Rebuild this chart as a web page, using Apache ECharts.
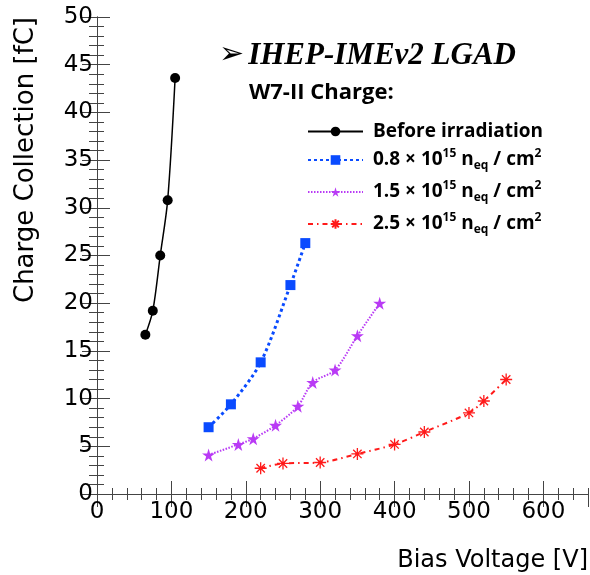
<!DOCTYPE html>
<html>
<head>
<meta charset="utf-8">
<script src="https://cdn.jsdelivr.net/npm/echarts@6/dist/echarts.min.js"></script>
<style>
  html, body { margin: 0; padding: 0; background: #fff; }
  #chart { width: 590px; height: 575px; }
</style>
</head>
<body>
<div id="chart"></div>
<script>
// Collected charge vs. bias voltage, one series per fluence
const voltageBefore = [65, 75, 85, 95, 105];
const chargeBefore  = [16.7, 19.2, 25.0, 30.8, 43.6];

const voltage08 = [150, 180, 220, 260, 280];
const charge08  = [7.0, 9.4, 13.8, 21.9, 26.3];

const voltage15 = [150, 190, 210, 240, 270, 290, 320, 350, 380];
const charge15  = [4.1, 5.2, 5.8, 7.2, 9.2, 11.7, 13.0, 16.6, 20.0];

const voltage25 = [220, 250, 300, 350, 400, 440, 500, 520, 550];
const charge25  = [2.7, 3.2, 3.3, 4.2, 5.2, 6.5, 8.5, 9.75, 12.0];

// Legend entries and the fluence prefix shown for each (null = plain name)
const seriesNames = ['Before irradiation', '0.8 fluence', '1.5 fluence', '2.5 fluence'];
const fluenceLabels = [null, '0.8', '1.5', '2.5'];

const xRange = [0, 660];
const yRange = [0, 50];

function pairs(xs, ys) { return xs.map((x, i) => [x, ys[i]]); }

const starPath = 'path://M50,0 L61,35 L98,35 L68,57 L79,91 L50,70 L21,91 L32,57 L2,35 L39,35 Z';
const asteriskPath = 'path://M5,0L5,10M0,5L10,5M1.5,1.5L8.5,8.5M1.5,8.5L8.5,1.5';

const axisColor = '#444';
const tickFont = { fontFamily: 'DejaVu Sans', fontSize: 23, color: '#000' };

function tickAxis(pos, interval, len, showLine, min, max) {
  return {
    type: 'value', position: pos, min: min, max: max, interval: interval,
    axisLine: { show: showLine, lineStyle: { color: axisColor, width: 1 } },
    axisTick: { show: true, inside: true, length: len, lineStyle: { color: axisColor, width: 1 } },
    axisLabel: { show: false },
    splitLine: { show: false }
  };
}

const chart = echarts.init(document.getElementById('chart'), null, { renderer: 'canvas' });

const richText = {
  b:   { fontFamily: 'Open Sans', fontWeight: 'bold', fontSize: 19, color: '#000', lineHeight: 26, verticalAlign: 'middle' },
  pad: { fontFamily: 'Open Sans', fontWeight: 'bold', fontSize: 19, color: '#000', lineHeight: 26, width: 5 },
  sup: { fontFamily: 'Open Sans', fontWeight: 'bold', fontSize: 12, color: '#000', lineHeight: 26, verticalAlign: 'top', padding: [1, 0, 0, 0] },
  sub: { fontFamily: 'Open Sans', fontWeight: 'bold', fontSize: 12, color: '#000', lineHeight: 26, verticalAlign: 'bottom', padding: [0, 0, 1, 0] }
};

chart.setOption({
  animation: false,
  grid: { left: 97, right: 2, top: 17, bottom: 81, containLabel: false },
  xAxis: [
    {
      type: 'value', position: 'bottom', min: xRange[0], max: xRange[1], interval: 100,
      axisLine: { show: true, lineStyle: { color: axisColor, width: 1 } },
      axisTick: { show: true, inside: true, length: 13, lineStyle: { color: axisColor, width: 1 } },
      axisLabel: Object.assign({ show: true, margin: 7, showMaxLabel: false }, tickFont),
      splitLine: { show: false }
    },
    tickAxis('bottom', 20, 6, false, xRange[0], xRange[1]),
    tickAxis('top', 100, 13, true, xRange[0], xRange[1]),
    tickAxis('top', 20, 6, false, xRange[0], xRange[1])
  ],
  yAxis: [
    {
      type: 'value', position: 'left', min: yRange[0], max: yRange[1], interval: 5,
      axisLine: { show: true, lineStyle: { color: axisColor, width: 1 } },
      axisTick: { show: true, inside: true, length: 13, lineStyle: { color: axisColor, width: 1 } },
      axisLabel: Object.assign({ show: true, margin: 4 }, tickFont),
      splitLine: { show: false }
    },
    tickAxis('left', 1, 7, false, yRange[0], yRange[1]),
    tickAxis('right', 5, 15, true, yRange[0], yRange[1]),
    tickAxis('right', 1, 8, false, yRange[0], yRange[1])
  ],
  legend: {
    orient: 'vertical',
    left: 302, top: 117,
    itemWidth: 55, itemHeight: 12, itemGap: 6,
    selectedMode: false,
    data: seriesNames,
    formatter: function (name) {
      const i = seriesNames.indexOf(name);
      if (!fluenceLabels[i]) return '{pad|}{b|' + name + '}';
      return '{pad|}{b|' + fluenceLabels[i] + ' \u00d7 10}{sup|15}{b| n}{sub|eq}{b| / cm}{sup|2}';
    },
    textStyle: { rich: richText }
  },
  graphic: [
    {
      type: 'text', left: 219, top: 40,
      style: {
        rich: {
          arr: { fontFamily: 'DejaVu Sans', fontSize: 30, color: '#000', padding: [0, 4, 0, 0] },
          t:   { fontFamily: 'Liberation Serif', fontStyle: 'italic', fontWeight: 'bold', fontSize: 31, color: '#000' }
        },
        text: '{arr|\u27a2}{t|IHEP-IMEv2 LGAD}'
      }
    },
    {
      type: 'text', left: 249, top: 82,
      style: { text: 'W7-II Charge:', fontFamily: 'Open Sans', fontWeight: 'bold', fontSize: 22, fill: '#000' }
    },
    {
      type: 'text', x: 26, y: 17, rotation: Math.PI / 2,
      style: { text: 'Charge Collection [fC]', fontFamily: 'DejaVu Sans', fontSize: 26, fill: '#000', align: 'right', verticalAlign: 'middle' }
    },
    {
      type: 'text', x: 588, y: 561,
      style: { text: 'Bias Voltage [V]', fontFamily: 'DejaVu Sans', fontSize: 24, fill: '#000', align: 'right', verticalAlign: 'middle' }
    }
  ],
  series: [
    {
      name: seriesNames[0], type: 'line', xAxisIndex: 0, yAxisIndex: 0,
      data: pairs(voltageBefore, chargeBefore), smooth: 0.3,
      symbol: 'circle', symbolSize: 10,
      lineStyle: { color: '#000', width: 1.5, type: 'solid' },
      itemStyle: { color: '#000' }
    },
    {
      name: seriesNames[1], type: 'line', xAxisIndex: 0, yAxisIndex: 0,
      data: pairs(voltage08, charge08), smooth: 0.3,
      symbol: 'rect', symbolSize: 10,
      lineStyle: { color: '#0a4bff', width: 3, type: [3, 3] },
      itemStyle: { color: '#0a4bff' }
    },
    {
      name: seriesNames[2], type: 'line', xAxisIndex: 0, yAxisIndex: 0,
      data: pairs(voltage15, charge15), smooth: 0.3,
      symbol: starPath, symbolSize: 13,
      lineStyle: { color: '#b93af5', width: 2, type: [1.5, 1.5] },
      itemStyle: { color: '#b93af5' }
    },
    {
      name: seriesNames[3], type: 'line', xAxisIndex: 0, yAxisIndex: 0,
      data: pairs(voltage25, charge25), smooth: 0.3,
      symbol: asteriskPath, symbolSize: 12,
      lineStyle: { color: '#ff1a1a', width: 2, type: [5, 4, 1.5, 4] },
      itemStyle: { color: 'rgba(255,26,26,0.15)', borderColor: '#ff1a1a', borderWidth: 1.3 }
    }
  ]
});
</script>
</body>
</html>
